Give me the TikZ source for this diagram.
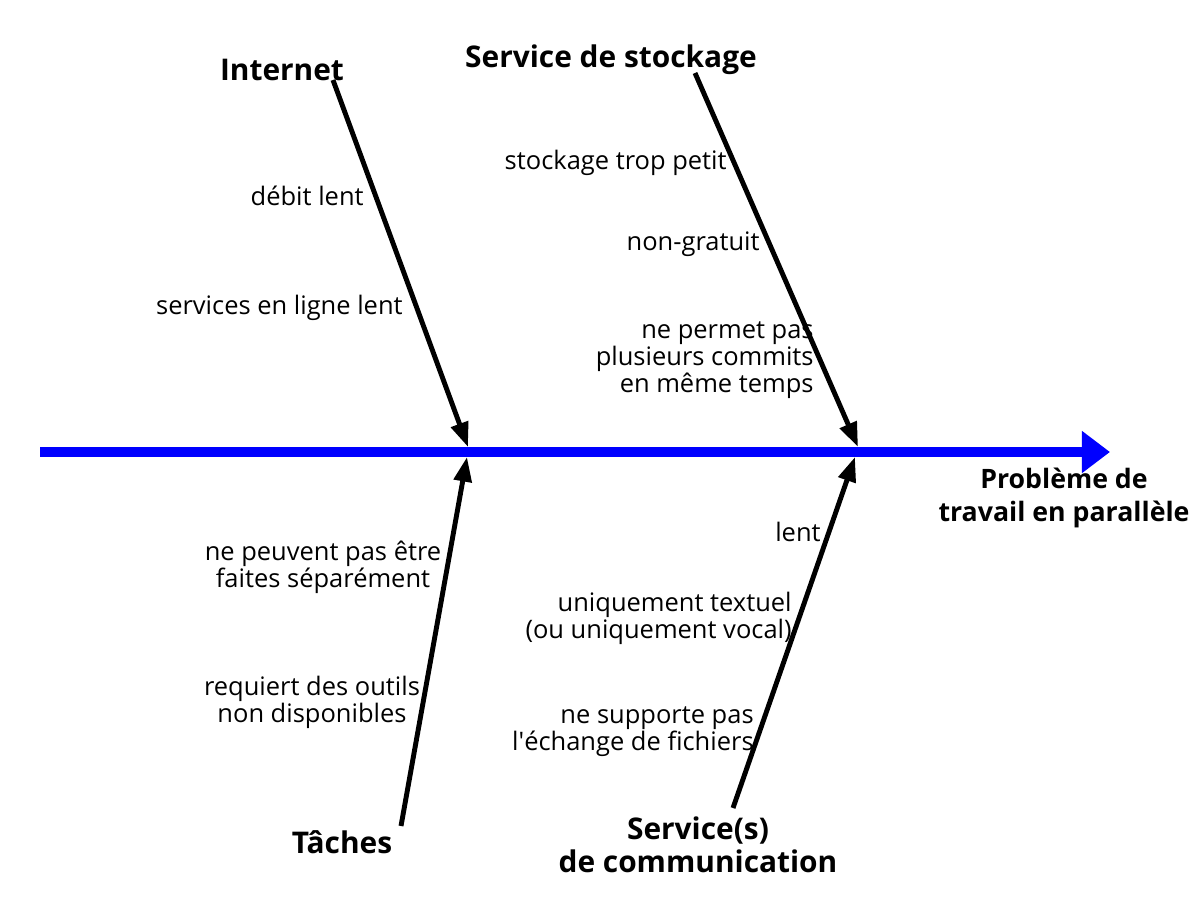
\documentclass[tikz,border=0pt]{standalone}
\usepackage{fontspec}
\setmainfont{Open Sans}
\usetikzlibrary{arrows.meta}
\tikzstyle{cause} = [font={\fontsize{14.5}{15.3}\selectfont}, inner sep=0pt]
\tikzstyle{head} = [font={\fontsize{17}{18.5}\selectfont\bfseries}, inner sep=0pt, align=center]
\tikzstyle{bone} = [draw=black, line width=2.8pt, -{Triangle[length=14pt,width=10pt]}]
\tikzstyle{spine} = [draw=blue, line width=5.7pt, -{Triangle[length=16pt,width=23pt]}]

\begin{document}
\begin{tikzpicture}[x=0.02cm,y=-0.02cm]
  \useasboundingbox (0,0) rectangle (1200,900);
  % spine
  \coordinate (s0) at (40,452);
  \coordinate (s1) at (1110,452);
  \coordinate (j1) at (468,447);
  \coordinate (j2) at (858,447);
  \coordinate (j3) at (467,457);
  \coordinate (j4) at (855,457);
  \coordinate (b1) at (333,80);
  \coordinate (b2) at (695,73);
  \coordinate (b3) at (401,826);
  \coordinate (b4) at (733,808);
  \draw[spine](s0)--(s1);
  % heads
  \node[head](net) at (282,70){Internet};
  \node[head](sto) at (611,60){Service de stockage};
  \node[head](tac) at (342,842){Tâches};
  \node[head](com) at (698,845){Service(s)\\de communication};
  \node[head,font={\fontsize{15.2}{18.5}\selectfont\bfseries}](pb) at (1064,498){Problème de\\travail en parallèle};
  % causes
  \node[cause,anchor=east](c1) at (364,196){débit lent};
  \node[cause,anchor=east](c2) at (403,308){services en ligne lent};
  \node[cause,anchor=east](c3) at (727,163){stockage trop petit};
  \node[cause,anchor=east](c4) at (760,244){non-gratuit};
  \node[cause,anchor=east,align=right](c5) at (814,360){ne permet pas\\plusieurs commits\\en même temps};
  \node[cause,align=center](c6) at (323,567){ne peuvent pas être\\faites séparément};
  \node[cause,align=center](c7) at (312,702){requiert des outils\\non disponibles};
  \node[cause,anchor=east](c8) at (821,532){lent};
  \node[cause,anchor=east,align=right](c9) at (792,618){uniquement textuel\\(ou uniquement vocal)};
  \node[cause,anchor=east,align=right](c10) at (754,732){ne supporte pas\\l\textquotesingle échange de fichiers};
  % bones
  \draw[bone](b1)--(j1);
  \draw[bone](b2)--(j2);
  \draw[bone](b3)--(j3);
  \draw[bone](b4)--(j4);
\end{tikzpicture}
\end{document}
